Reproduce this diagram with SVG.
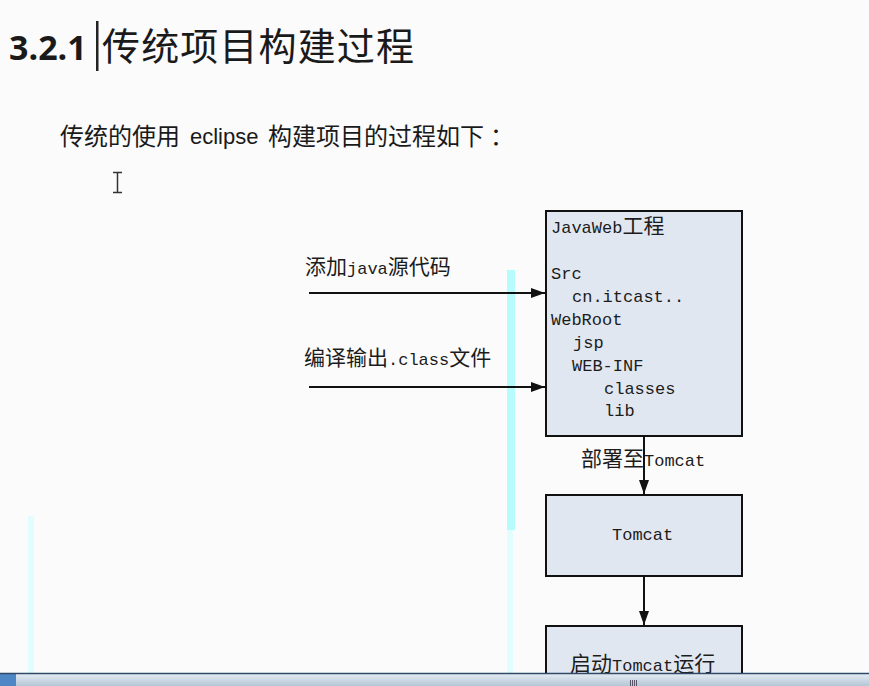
<svg xmlns="http://www.w3.org/2000/svg" width="869" height="686" viewBox="0 0 869 686">
<style>
.m{font-family:"Liberation Mono","Noto Sans CJK SC",monospace;font-size:17px;fill:#1c1c1c}
.c{font-family:"Noto Sans CJK SC",sans-serif;font-size:21px;font-weight:400}
.b{fill:#e1e7f1;stroke:#111;stroke-width:2}
.l{stroke:#111;stroke-width:2;fill:none}
.h{font-family:"Noto Sans CJK SC",sans-serif;font-size:24px;fill:#1a1a1a}
</style>
<defs><linearGradient id="g" x1="0" y1="0" x2="0" y2="1"><stop offset="0" stop-color="#e8eff6"/><stop offset="1" stop-color="#b4c6d6"/></linearGradient>
<marker id="a" viewBox="0 0 14 10" refX="14" refY="5" markerUnits="userSpaceOnUse" markerWidth="14" markerHeight="10" orient="auto"><path d="M0 0L14 5L0 10z" fill="#111"/></marker></defs>
<rect width="869" height="686" fill="#fbfbfb"/>
<g id="artifacts">
<rect x="507" y="270" width="8" height="260" fill="#b8fbfd"/><rect x="507" y="530" width="6" height="145" fill="#e2fdfe"/>
<rect x="28" y="516" width="6" height="160" fill="#e2fdfe"/>
</g>
<g id="heading">
<text x="9" y="60" font-family="'Open Sans','Liberation Sans',sans-serif" font-weight="700" font-size="34" fill="#1a1a1a">3.2.1</text>
<rect x="96" y="21" width="2.500" height="50" fill="#222"/>
<text x="102" y="60" font-family="'Noto Sans CJK SC',sans-serif" font-size="38" font-weight="400" fill="#1a1a1a" textLength="312">传统项目构建过程</text>
<text class="h" x="60" y="145">传统的使用</text>
<text x="190" y="144" font-family="'Liberation Sans',sans-serif" font-size="22" fill="#1a1a1a">eclipse</text>
<text class="h" x="268" y="145">构建项目的过程如下<tspan dx="6">：</tspan></text>
<path d="M113 172.500h4.500M122 172.500h-4.500V192.500M113 192.500h4.500M122 192.500h-4.500" fill="none" stroke="#333" stroke-width="1.500"/>
</g>
<g id="connectors">
<path class="l" d="M309 293H545" marker-end="url(#a)"/>
<path class="l" d="M309 387H545" marker-end="url(#a)"/>
<path class="l" d="M644 436V494" marker-end="url(#a)"/>
<path class="l" d="M644 576V625" marker-end="url(#a)"/>
<text class="m" x="305" y="274"><tspan class="c">添加</tspan>java<tspan class="c">源代码</tspan></text>
<text class="m" x="304" y="365"><tspan class="c">编译输出</tspan>.class<tspan class="c">文件</tspan></text>
<text class="m" x="581" y="466"><tspan class="c">部署至</tspan>Tomcat</text>
</g>
<g id="node-javaweb">
<rect class="b" x="546" y="211" width="196" height="225"/>
<text class="m" x="551" y="233">JavaWeb<tspan class="c">工程</tspan></text>
<text class="m" x="551" y="279">Src</text>
<text class="m" x="572" y="302">cn.itcast..</text>
<text class="m" x="551" y="325">WebRoot</text>
<text class="m" x="573" y="348">jsp</text>
<text class="m" x="572" y="371">WEB-INF</text>
<text class="m" x="604" y="394">classes</text>
<text class="m" x="604" y="416">lib</text>
</g>
<g id="node-tomcat">
<rect class="b" x="546" y="495" width="196" height="81"/>
<text class="m" x="612" y="540">Tomcat</text>
</g>
<g id="node-start">
<rect class="b" x="546" y="626" width="196" height="70"/>
<text class="m" x="570" y="671"><tspan class="c">启动</tspan>Tomcat<tspan class="c">运行</tspan></text>
</g>
<g id="scrollbar">
<rect x="0" y="673" width="869" height="13" fill="url(#g)"/>
<rect x="0" y="673" width="16" height="13" fill="#4f86c6"/>
<path d="M0 673.500H869" stroke="#2f4a68" stroke-width="1.500"/>
<path d="M630.500 680v6M632.500 680v6M634.500 680v6M636.500 680v6" stroke="#556" stroke-width="1"/>
</g>
</svg>
